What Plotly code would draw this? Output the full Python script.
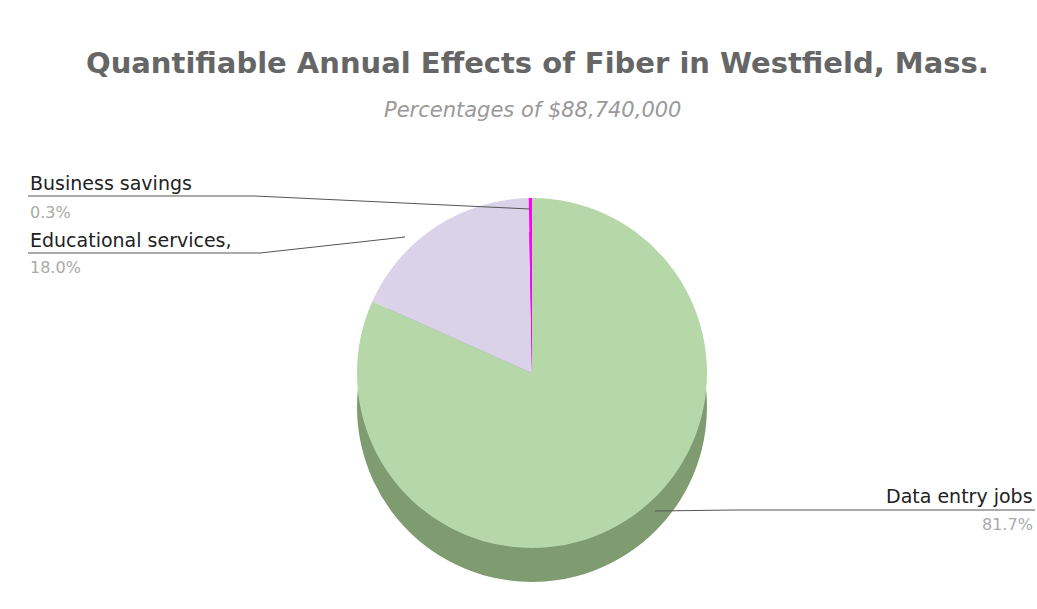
import plotly.graph_objects as go

W, H = 1037, 609

categories = ["Data entry jobs", "Educational services,", "Business savings"]
values = [81.7, 18.0, 0.3]
pct_labels = ["81.7%", "18.0%", "0.3%"]

top_colors = ["#b6d7a8", "#d9d2e9", "#ff00ff"]
side_colors = ["#7e9c70", "#9c95ab", "#b000b0"]

def px(x):
    return x / W

def py(y):
    return 1 - y / H

fig = go.Figure()

# depth (side) layer
fig.add_trace(go.Pie(
    labels=categories, values=values, sort=False, direction="clockwise", rotation=0,
    marker=dict(colors=side_colors, line=dict(width=0)),
    textinfo="none", hoverinfo="skip", showlegend=False,
    domain=dict(x=[px(357), px(707)], y=[py(582), py(232)]),
))
# top face
fig.add_trace(go.Pie(
    labels=categories, values=values, sort=False, direction="clockwise", rotation=0,
    marker=dict(colors=top_colors, line=dict(width=0)),
    textinfo="none", showlegend=False,
    domain=dict(x=[px(357), px(707)], y=[py(548), py(198)]),
))

line_col = "#555555"
shapes = []
def seg(x0, y0, x1, y1):
    shapes.append(dict(type="line", xref="paper", yref="paper",
                       x0=px(x0), y0=py(y0), x1=px(x1), y1=py(y1),
                       line=dict(color=line_col, width=1)))

seg(28, 196, 255, 196); seg(255, 196, 530, 209)
seg(28, 253, 260, 253); seg(260, 253, 405, 237)
seg(1035, 510, 735, 510); seg(735, 510, 655, 511)

lab_font = "DejaVu Sans, sans-serif"
annotations = [
    dict(text="Business savings", x=px(28), y=py(183), xanchor="left", yanchor="middle",
         font=dict(size=19, color="#222222", family=lab_font)),
    dict(text=pct_labels[2], x=px(28), y=py(212), xanchor="left", yanchor="middle",
         font=dict(size=16, color="#aaaaaa", family=lab_font)),
    dict(text=categories[1], x=px(28), y=py(240), xanchor="left", yanchor="middle",
         font=dict(size=19, color="#222222", family=lab_font)),
    dict(text=pct_labels[1], x=px(28), y=py(267), xanchor="left", yanchor="middle",
         font=dict(size=16, color="#aaaaaa", family=lab_font)),
    dict(text=categories[0], x=px(1035), y=py(496), xanchor="right", yanchor="middle",
         font=dict(size=19, color="#222222", family=lab_font)),
    dict(text=pct_labels[0], x=px(1035), y=py(524), xanchor="right", yanchor="middle",
         font=dict(size=16, color="#aaaaaa", family=lab_font)),
    dict(text="<b>Quantifiable Annual Effects of Fiber in Westfield, Mass.</b>",
         x=px(537), y=py(63), xanchor="center", yanchor="middle",
         font=dict(size=29, color="#666666", family=lab_font)),
    dict(text="<i>Percentages of $88,740,000</i>",
         x=px(532), y=py(110), xanchor="center", yanchor="middle",
         font=dict(size=21, color="#999999", family=lab_font)),
]
for a in annotations:
    a.update(xref="paper", yref="paper", showarrow=False)

fig.update_layout(
    width=W, height=H,
    margin=dict(l=0, r=0, t=0, b=0),
    paper_bgcolor="white", plot_bgcolor="white",
    font=dict(family="DejaVu Sans, sans-serif"),
    shapes=shapes, annotations=annotations,
)

fig.write_html("out.html")
